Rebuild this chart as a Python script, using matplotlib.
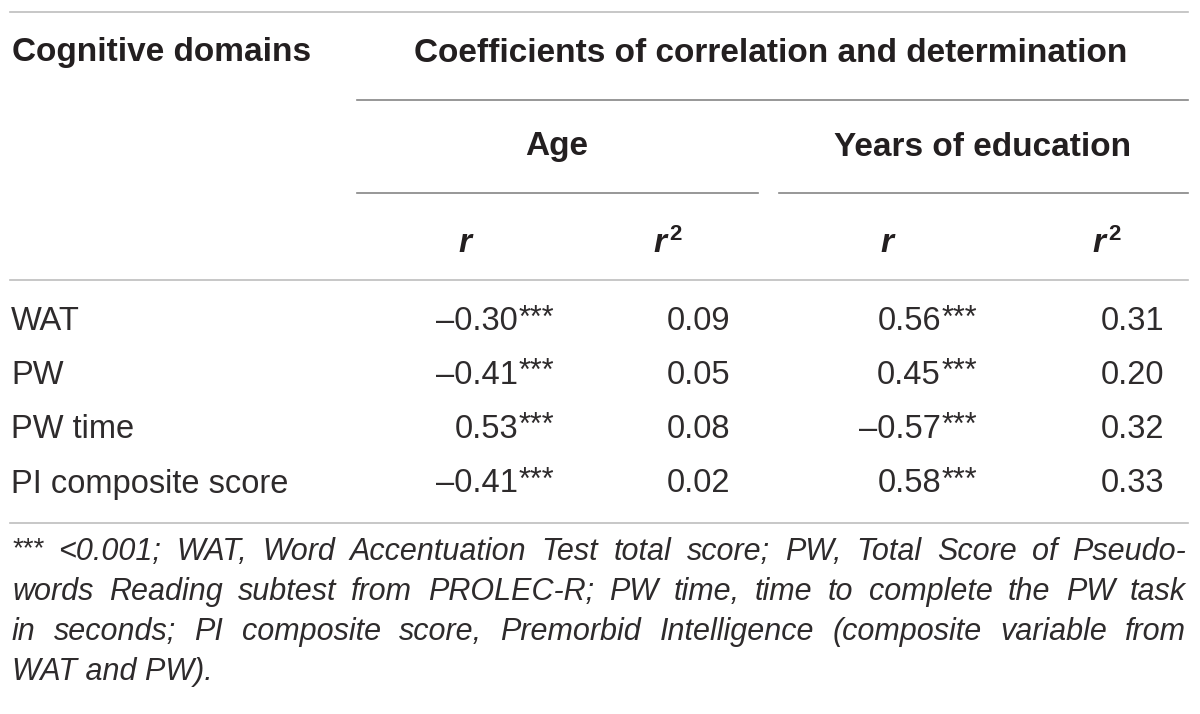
import matplotlib.pyplot as plt

# table content
domains = ['WAT', 'PW', 'PW time', 'PI composite score']
age_r = [-0.30, -0.41, 0.53, -0.41]
age_r2 = [0.09, 0.05, 0.08, 0.02]
edu_r = [0.56, 0.45, -0.57, 0.58]
edu_r2 = [0.31, 0.20, 0.32, 0.33]
stars = '***'

title_left = 'Cognitive domains'
title_right = 'Coefficients of correlation and determination'
groups = ['Age', 'Years of education']

footnote = [
    '<0.001; WAT, Word Accentuation Test total score; PW, Total Score of Pseudo-',
    'words Reading subtest from PROLEC-R; PW time, time to complete the PW task',
    'in seconds; PI composite score, Premorbid Intelligence (composite variable from',
    'WAT and PW).',
]

plt.rcParams['font.family'] = ['Liberation Sans', 'DejaVu Sans']
txt = '#231f20'
body = '#2e2b2c'
hfs = 24      # bold headers
fs = 23.5     # body

fig = plt.figure(figsize=(12, 7.14), dpi=100)
ax = fig.add_axes([0, 0, 1, 1])
ax.set_xlim(0, 1200)
ax.set_ylim(714, 0)
ax.axis('off')


def fmt(v):
    return f'{v:.2f}'.replace('-', '\u2013')


# rules
light, dark = '#bdbdbd', '#858585'
ax.plot([10, 1188], [12, 12], color=light, lw=1.2)
ax.plot([357, 1188], [100, 100], color=dark, lw=1.2)
ax.plot([357, 758], [193, 193], color=dark, lw=1.2)
ax.plot([779, 1188], [193, 193], color=dark, lw=1.2)
ax.plot([10, 1188], [280, 280], color=light, lw=1.2)
ax.plot([10, 1188], [523, 523], color=light, lw=1.2)

# headers
ax.text(12, 53, title_left, ha='left', va='center', fontsize=hfs,
        fontweight='bold', color=txt)
ax.text(771, 53, title_right, ha='center', va='center', fontsize=hfs,
        fontweight='bold', color=txt)
ax.text(557, 147, groups[0], ha='center', va='center', fontsize=hfs,
        fontweight='bold', color=txt)
ax.text(983, 147, groups[1], ha='center', va='center', fontsize=hfs,
        fontweight='bold', color=txt)

for xl in [458, 880]:
    ax.text(xl, 243, 'r', ha='left', va='center', fontsize=hfs,
            fontweight='bold', style='italic', color=txt)
for xl in [653, 1092]:
    ax.text(xl, 243, 'r', ha='left', va='center', fontsize=hfs,
            fontweight='bold', style='italic', color=txt)
    ax.text(xl + 16, 234, '2', ha='left', va='center', fontsize=16,
            fontweight='bold', color=txt)

# body
row_y = [322, 375, 429, 484]
star_w = 39
for i, y in enumerate(row_y):
    ax.text(11, y, domains[i], ha='left', va='center', fontsize=fs, color=body)
    ax.text(557 - star_w, y, fmt(age_r[i]), ha='right', va='center', fontsize=fs, color=body)
    ax.text(557 - star_w + 1, y - 3, stars, ha='left', va='center', fontsize=22, color=body)
    ax.text(730, y, fmt(age_r2[i]), ha='right', va='center', fontsize=fs, color=body)
    ax.text(980 - star_w, y, fmt(edu_r[i]), ha='right', va='center', fontsize=fs, color=body)
    ax.text(980 - star_w + 1, y - 3, stars, ha='left', va='center', fontsize=22, color=body)
    ax.text(1164, y, fmt(edu_r2[i]), ha='right', va='center', fontsize=fs, color=body)

# footnote, justified between x=12 and x=1186
fn_y = [552, 592, 632, 672]
x_left, x_right, star_gap = 12, 1186, 46
fig.canvas.draw()
renderer = fig.canvas.get_renderer()

fn_fs = 22
probe = ax.text(0, 0, '', fontsize=fn_fs, style='italic')
scale = 1.0
for k, line in enumerate(footnote[:-1]):
    probe.set_text(line)
    avail = x_right - x_left - (star_gap if k == 0 else 0)
    scale = min(scale, avail / probe.get_window_extent(renderer).width)
probe.remove()
fn_fs = fn_fs * scale

ax.text(x_left + 1, fn_y[0] - 3, stars, ha='left', va='center', fontsize=20,
        color=body)
for k, line in enumerate(footnote):
    x0 = x_left + star_gap if k == 0 else x_left
    if k == len(footnote) - 1:
        ax.text(x0, fn_y[k], line, ha='left', va='center', fontsize=fn_fs,
                style='italic', color=body)
        continue
    words = line.split(' ')
    objs = [ax.text(0, fn_y[k], w, ha='left', va='center', fontsize=fn_fs,
                    style='italic', color=body) for w in words]
    widths = [o.get_window_extent(renderer).width for o in objs]
    gap = (x_right - x0 - sum(widths)) / (len(words) - 1)
    x = x0
    for o, w in zip(objs, widths):
        o.set_x(x)
        x += w + gap

fig.savefig('out.png', dpi=100)
